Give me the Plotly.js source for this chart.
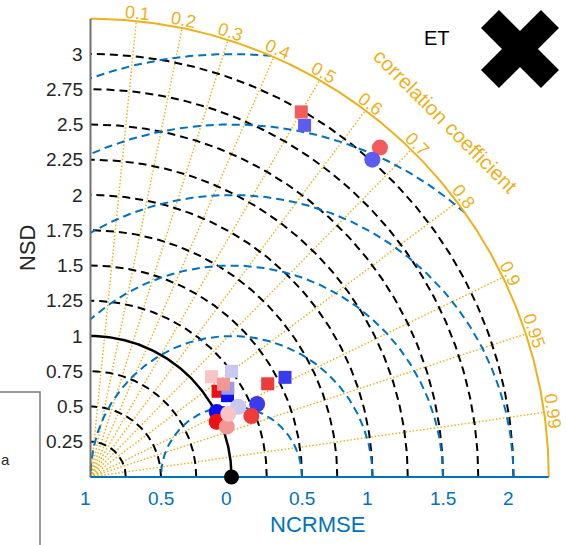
<!DOCTYPE html>
<html>
<head>
<meta charset="utf-8">
<script src="https://cdn.plot.ly/plotly-3.0.1.min.js"></script>
<style>
  html, body { margin: 0; padding: 0; background: #ffffff; }
  #chart { width: 567px; height: 545px; }
</style>
</head>
<body>
<div id="chart"></div>
<script>
// Taylor diagram for ET: normalised standard deviation (radius),
// correlation coefficient (angle) and centred RMSE (arcs about the reference).

const sdMax = 3.25;
const sdGrid = [0.25, 0.5, 0.75, 1.25, 1.5, 1.75, 2, 2.25, 2.5, 2.75, 3];
const sdRef = 1;
const sdTicks = [0.25, 0.5, 0.75, 1, 1.25, 1.5, 1.75, 2, 2.25, 2.5, 2.75, 3];
const sdTickText = ['0.25', '0.5', '0.75', '1', '1.25', '1.5', '1.75', '2', '2.25', '2.5', '2.75', '3'];

const rmsGrid = [0.5, 1, 1.5, 2, 2.5, 3];
const rmsTickPos = [-1, -0.5, 0, 0.5, 1, 1.5, 2];
const rmsTickText = ['1', '0.5', '0', '0.5', '1', '1.5', '2'];

const corrTicks = [0.1, 0.2, 0.3, 0.4, 0.5, 0.6, 0.7, 0.8, 0.9, 0.95, 0.99];
const corrTickText = ['0.1', '0.2', '0.3', '0.4', '0.5', '0.6', '0.7', '0.8', '0.9', '0.95', '0.99'];

// square markers
const sqNSD  = [2.99, 2.92, 1.42, 1.55, 1.115, 1.25, 1.09, 1.13, 1.16, 1.15];
const sqCorr = [0.50, 0.52, 0.885, 0.89, 0.77, 0.80, 0.83, 0.86, 0.84, 0.82];
const sqColor = ['#F25C5C', '#5C5CF0', '#EE3B3B', '#3B3BEE', '#F8C4C6',
                 '#C8C8F2', '#EE1010', '#1010EE', '#9A9AE6', '#F29696'];

// circle markers
const ciNSD  = [3.11, 3.01, 1.16, 1.29, 1.22, 1.007, 0.977, 1.03, 1.075];
const ciCorr = [0.66, 0.664, 0.903, 0.916, 0.935, 0.889, 0.916, 0.938, 0.909];
const ciColor = ['#F25C5C', '#5C5CF0', '#C8C8F2', '#3B3BEE', '#EE3B3B',
                 '#1010EE', '#EE1010', '#F29696', '#F8C4C6'];

const GOLD = '#EDB120';
const BLUE = '#0072BD';
const DARK = '#262626';
const FONT = 'Liberation Sans, Arial, Helvetica, sans-serif';

// canvas geometry
const W = 567, H = 545;
const unitPx = 141;
const origin = [90.5, 477];
const xRange = [-origin[0] / unitPx, (W - origin[0]) / unitPx];
const yRange = [-(H - origin[1]) / unitPx, origin[1] / unitPx];

function toXY(sd, r) {
  return [sd * r, sd * Math.sqrt(Math.max(0, 1 - r * r))];
}
function deg(a) { return a * 180 / Math.PI; }

const traces = [];

// radial correlation lines
corrTicks.forEach(c => {
  const p = toXY(sdMax, c);
  traces.push({
    x: [0, p[0]], y: [0, p[1]], mode: 'lines', hoverinfo: 'skip',
    line: { color: GOLD, width: 1.5, dash: '1.5px,2px' }
  });
});

// arc helper
function arc(radius, cx, a0, a1, n) {
  const xs = [], ys = [];
  for (let i = 0; i <= n; i++) {
    const a = a0 + (a1 - a0) * i / n;
    xs.push(cx + radius * Math.cos(a));
    ys.push(radius * Math.sin(a));
  }
  return { xs, ys };
}

// standard deviation arcs
sdGrid.forEach(s => {
  const a = arc(s, 0, 0, Math.PI / 2, 180);
  traces.push({
    x: a.xs, y: a.ys, mode: 'lines', hoverinfo: 'skip',
    line: { color: '#000000', width: 2, dash: '8px,5px' }
  });
});

// centred RMSE arcs around the reference point
rmsGrid.forEach(r => {
  const cMin = (sdMax * sdMax - 1 - r * r) / (2 * r);
  const aMin = cMin >= 1 ? 0 : Math.acos(cMin);
  const aMax = r > 1 ? Math.acos(-1 / r) : Math.PI;
  const a = arc(r, sdRef, aMin, aMax, 240);
  traces.push({
    x: a.xs, y: a.ys, mode: 'lines', hoverinfo: 'skip',
    line: { color: BLUE, width: 2, dash: '8px,5px' }
  });
});

// reference standard deviation arc
(() => {
  const a = arc(sdRef, 0, 0, Math.PI / 2, 180);
  traces.push({
    x: a.xs, y: a.ys, mode: 'lines', hoverinfo: 'skip',
    line: { color: '#000000', width: 2.5 }
  });
})();

// frame: outer arc, NSD axis, NCRMSE axis
(() => {
  const a = arc(sdMax, 0, 0, Math.PI / 2, 360);
  traces.push({ x: a.xs, y: a.ys, mode: 'lines', hoverinfo: 'skip',
    line: { color: GOLD, width: 2 } });
  traces.push({ x: [0, 0], y: [0, sdMax], mode: 'lines', hoverinfo: 'skip',
    line: { color: '#707070', width: 2 } });
  traces.push({ x: [0, sdMax], y: [0, 0], mode: 'lines', hoverinfo: 'skip',
    line: { color: BLUE, width: 2 } });
})();

// model markers
const sqXY = sqNSD.map((s, i) => toXY(s, sqCorr[i]));
traces.push({
  x: sqXY.map(p => p[0]), y: sqXY.map(p => p[1]), mode: 'markers', hoverinfo: 'skip',
  marker: { symbol: 'square', size: 13, color: sqColor, line: { width: 0 } }
});
const ciXY = ciNSD.map((s, i) => toXY(s, ciCorr[i]));
traces.push({
  x: ciXY.map(p => p[0]), y: ciXY.map(p => p[1]), mode: 'markers', hoverinfo: 'skip',
  marker: { symbol: 'circle', size: 16, color: ciColor, line: { width: 0 } }
});

// reference point
traces.push({
  x: [sdRef], y: [0], mode: 'markers', hoverinfo: 'skip',
  marker: { symbol: 'circle', size: 15, color: '#000000' }
});

const annotations = [];

// NSD tick labels
sdTicks.forEach((v, i) => {
  annotations.push({
    x: 0, y: v, xref: 'x', yref: 'y', text: sdTickText[i], showarrow: false,
    xanchor: 'right', yanchor: 'middle', xshift: -6,
    font: { family: FONT, size: 19, color: DARK }
  });
});

// NCRMSE tick labels (labels padded to a common width)
rmsTickPos.forEach((v, i) => {
  let t = rmsTickText[i];
  while (t.length < 3) t += '\u00a0';
  annotations.push({
    x: sdRef + v, y: 0, xref: 'x', yref: 'y', text: t, showarrow: false,
    xanchor: 'center', yanchor: 'middle', yshift: -21,
    font: { family: FONT, size: 19, color: BLUE }
  });
});

// correlation tick labels around the outer arc
corrTicks.forEach((c, i) => {
  const p = toXY(3.31, c);
  annotations.push({
    x: p[0], y: p[1], xref: 'x', yref: 'y', text: corrTickText[i], showarrow: false,
    xanchor: 'center', yanchor: 'middle', textangle: 90 - deg(Math.acos(c)),
    borderpad: 0,
    font: { family: FONT, size: 18, color: GOLD }
  });
});

// axis titles
(() => {
  const p = toXY(3.57, Math.cos(Math.PI / 4));
  annotations.push({
    x: p[0], y: p[1], xref: 'x', yref: 'y', text: 'correlation coefficient',
    showarrow: false, xanchor: 'center', yanchor: 'middle', textangle: 45,
    font: { family: FONT, size: 20.5, color: GOLD }
  });
})();
annotations.push({
  x: 1.613, y: -0.34, xref: 'x', yref: 'y', text: 'NCRMSE', showarrow: false,
  xanchor: 'center', yanchor: 'middle',
  font: { family: FONT, size: 22, color: BLUE }
});
annotations.push({
  x: -0.45, y: 1.624, xref: 'x', yref: 'y', text: 'NSD', showarrow: false,
  xanchor: 'center', yanchor: 'middle', textangle: -90,
  font: { family: FONT, size: 22, color: DARK }
});
annotations.push({
  x: 436.5 / W, y: 1 - 38.5 / H, xref: 'paper', yref: 'paper', text: 'ET',
  showarrow: false, xanchor: 'center', yanchor: 'middle',
  font: { family: FONT, size: 20, color: '#000000' }
});
annotations.push({
  x: 12 / W, y: 1 - 459 / H, xref: 'paper', yref: 'paper', text: 'a',
  showarrow: false, xanchor: 'right', yanchor: 'middle',
  font: { family: FONT, size: 15, color: DARK }
});

// paper-space helpers for the panel symbol and legend frame
function pp(px, py) { return (px / W).toFixed(5) + ',' + (1 - py / H).toFixed(5); }
function crossPath(cx, cy, h, k) {
  const v = [[0, -k], [h - k, -h], [h, -h + k], [k, 0], [h, h - k], [h - k, h],
             [0, k], [-h + k, h], [-h, h - k], [-k, 0], [-h, -h + k], [-h + k, -h]];
  return 'M' + v.map(q => pp(cx + q[0], cy + q[1])).join('L') + 'Z';
}

const shapes = [
  { type: 'path', xref: 'paper', yref: 'paper', path: crossPath(520, 49, 39, 18),
    fillcolor: '#000000', line: { width: 0 } },
  { type: 'rect', xref: 'paper', yref: 'paper',
    x0: -6 / W, x1: 40 / W, y0: 1 - 392 / H, y1: 1 - 560 / H,
    line: { color: '#7a7a7a', width: 1.5 }, fillcolor: 'rgba(0,0,0,0)' }
];

const layout = {
  width: W, height: H,
  margin: { l: 0, r: 0, t: 0, b: 0, pad: 0 },
  paper_bgcolor: '#ffffff', plot_bgcolor: '#ffffff',
  showlegend: false,
  xaxis: { range: xRange, visible: false, fixedrange: true, zeroline: false, showgrid: false },
  yaxis: { range: yRange, visible: false, fixedrange: true, zeroline: false, showgrid: false },
  annotations: annotations,
  shapes: shapes
};

Plotly.newPlot('chart', traces, layout, { displayModeBar: false, staticPlot: true });
</script>
</body>
</html>
